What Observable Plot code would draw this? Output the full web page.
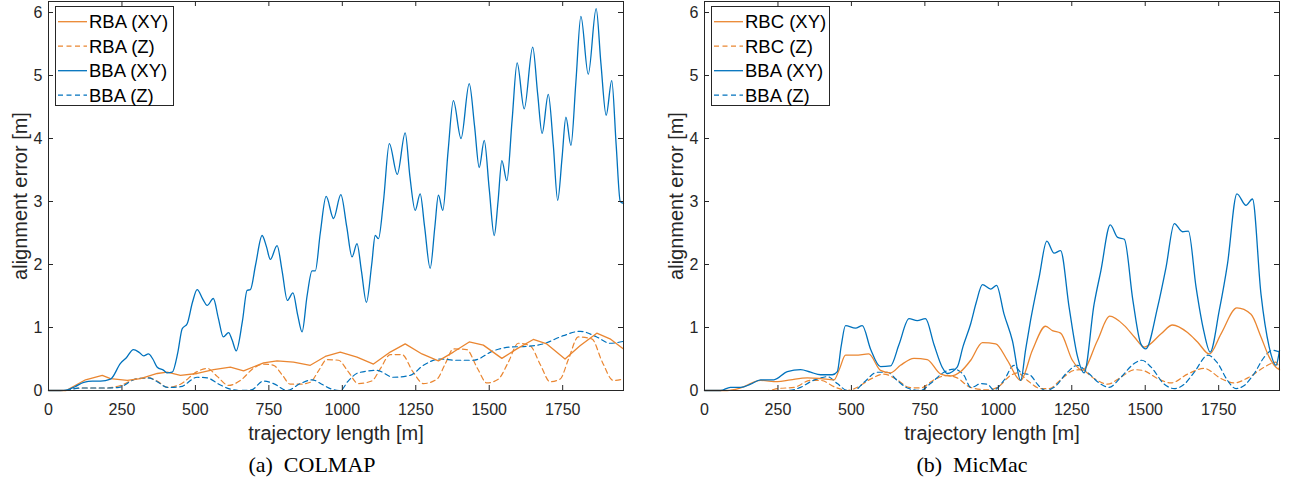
<!DOCTYPE html>
<html>
<head>
<meta charset="utf-8">
<script src="https://cdn.jsdelivr.net/npm/d3@7"></script>
<script src="https://cdn.jsdelivr.net/npm/@observablehq/plot@0.6"></script>
<style>
  html, body { margin: 0; padding: 0; background: #fff; }
  #wrap { position: relative; width: 1293px; height: 488px; overflow: hidden; }
  .panel { position: absolute; top: 0; }
  .legend { position: absolute; }
  .caption { position: absolute; top: 452px; font-family: "Liberation Serif", "Times New Roman", serif; font-size: 22px; color: #000; white-space: pre; transform: translateX(-50%); }
</style>
</head>
<body>
<div id="wrap"></div>
<script>
// ---------- tick labels ----------
const xTicks = [0, 250, 500, 750, 1000, 1250, 1500, 1750];
const yTicks = [0, 1, 2, 3, 4, 5, 6];

// ---------- series names ----------
const colmapNames = ["RBA (XY)", "RBA (Z)", "BBA (XY)", "BBA (Z)"];
const micmacNames = ["RBC (XY)", "RBC (Z)", "BBA (XY)", "BBA (Z)"];
const captions = ["(a)  COLMAP", "(b)  MicMac"];

// ---------- (a) COLMAP : [trajectory length, alignment error] ----------
const colmapBbaXY = [[0,0],[40,0],[64,0.01],[90,0.06],[120,0.13],[150,0.15],[177,0.15],[211,0.18],[245,0.43],[265,0.52],[289,0.65],[310,0.6],[324,0.55],[340,0.58],[355,0.5],[370,0.37],[392,0.32],[404,0.28],[421,0.29],[440,0.6],[455,0.98],[472,1.06],[490,1.4],[506,1.6],[525,1.45],[540,1.35],[561,1.46],[578,1.15],[595,0.85],[613,0.92],[625,0.8],[639,0.63],[660,1.1],[676,1.59],[687,1.6],[705,2.0],[727,2.46],[742,2.28],[755,2.08],[778,2.3],[795,1.9],[813,1.43],[832,1.55],[848,1.2],[863,0.93],[880,1.5],[897,1.9],[908,1.9],[925,2.5],[945,3.08],[970,2.73],[995,3.11],[1015,2.6],[1033,2.12],[1050,2.33],[1065,1.9],[1082,1.4],[1100,2.0],[1112,2.46],[1123,2.41],[1140,3.0],[1160,3.92],[1187,3.43],[1214,4.09],[1230,3.4],[1248,2.86],[1265,3.12],[1280,2.6],[1299,1.94],[1315,2.6],[1327,3.1],[1342,2.86],[1360,3.8],[1378,4.6],[1404,4.0],[1432,4.87],[1450,4.2],[1466,3.54],[1483,3.97],[1500,3.2],[1517,2.46],[1530,3.0],[1543,3.65],[1560,3.33],[1578,4.3],[1595,5.2],[1619,4.47],[1648,5.45],[1665,4.7],[1680,4.08],[1701,4.7],[1718,3.9],[1733,3.02],[1748,3.7],[1761,4.34],[1778,3.89],[1795,4.9],[1812,5.94],[1837,5.02],[1864,6.06],[1880,5.2],[1898,4.37],[1917,4.92],[1932,3.9],[1946,3.0],[1957,2.97]];
const colmapRbaXY = [[0,0],[60,0],[126,0.17],[183,0.24],[211,0.19],[268,0.16],[313,0.19],[370,0.27],[404,0.29],[449,0.24],[506,0.27],[562,0.33],[619,0.37],[664,0.31],[732,0.44],[778,0.47],[834,0.45],[891,0.4],[942,0.54],[993,0.61],[1050,0.53],[1106,0.42],[1163,0.61],[1214,0.74],[1271,0.58],[1327,0.47],[1378,0.61],[1432,0.77],[1480,0.72],[1543,0.51],[1594,0.66],[1650,0.81],[1696,0.74],[1758,0.5],[1809,0.71],[1866,0.91],[1911,0.82],[1957,0.66]];
const colmapRbaZ = [[0,0],[60,0],[100,0.04],[200,0.04],[245,0.08],[296,0.18],[340,0.2],[370,0.15],[404,0.05],[449,0.1],[506,0.3],[540,0.35],[575,0.22],[613,0.08],[653,0.16],[700,0.36],[732,0.42],[766,0.4],[795,0.25],[823,0.1],[857,0.1],[891,0.13],[920,0.32],[947,0.49],[987,0.48],[1020,0.3],[1054,0.11],[1100,0.15],[1130,0.35],[1163,0.57],[1203,0.57],[1240,0.3],[1276,0.11],[1322,0.18],[1350,0.42],[1378,0.66],[1423,0.65],[1460,0.35],[1492,0.12],[1531,0.18],[1565,0.45],[1599,0.75],[1639,0.71],[1675,0.4],[1707,0.14],[1741,0.18],[1770,0.5],[1803,0.85],[1849,0.82],[1885,0.45],[1922,0.16],[1957,0.18]];
const colmapBbaZ = [[0,0],[60,0],[90,0.03],[120,0.04],[200,0.04],[240,0.05],[296,0.18],[340,0.2],[370,0.14],[404,0.05],[449,0.06],[506,0.21],[540,0.2],[580,0.1],[613,0.03],[650,0],[690,0.01],[732,0.15],[766,0.11],[812,0],[857,0.11],[897,0.17],[930,0.1],[959,0.03],[993,0],[1020,0.15],[1054,0.28],[1117,0.32],[1174,0.21],[1231,0.24],[1276,0.4],[1333,0.5],[1389,0.48],[1446,0.48],[1514,0.63],[1571,0.69],[1627,0.7],[1684,0.74],[1752,0.87],[1809,0.94],[1866,0.85],[1911,0.75],[1957,0.78]];

// ---------- (b) MicMac ----------
const micmacBbaXY = [[0,0],[55,0],[88,0.05],[123,0.05],[157,0.1],[191,0.17],[236,0.17],[282,0.3],[327,0.33],[361,0.29],[395,0.25],[435,0.25],[452,0.3],[465,0.7],[480,1.03],[514,0.99],[537,1.03],[565,0.66],[599,0.38],[633,0.39],[662,0.73],[696,1.14],[724,1.11],[752,1.14],[781,0.73],[809,0.37],[826,0.27],[860,0.37],[880,0.7],[906,1.06],[925,1.4],[946,1.68],[974,1.61],[994,1.67],[1019,1.22],[1048,0.79],[1076,0.16],[1093,0.65],[1110,1.12],[1139,1.8],[1165,2.37],[1190,2.18],[1212,2.22],[1241,1.32],[1269,0.55],[1292,0.28],[1326,1.37],[1349,1.9],[1381,2.63],[1406,2.43],[1429,2.4],[1458,1.43],[1485,0.74],[1502,0.66],[1542,1.32],[1571,1.96],[1599,2.65],[1627,2.52],[1647,2.53],[1673,1.64],[1699,0.95],[1721,0.61],[1752,1.27],[1780,2.01],[1812,3.12],[1843,2.94],[1865,3.04],[1894,1.53],[1922,0.69],[1945,0.4],[1957,0.64]];
const micmacRbcXY = [[0,0],[77,0],[123,0.04],[191,0.16],[248,0.14],[293,0.17],[350,0.2],[395,0.19],[441,0.17],[460,0.35],[480,0.56],[514,0.56],[559,0.58],[599,0.32],[633,0.28],[667,0.4],[713,0.51],[758,0.49],[804,0.26],[838,0.23],[872,0.3],[906,0.48],[946,0.76],[991,0.74],[1031,0.48],[1076,0.16],[1116,0.64],[1161,1.02],[1184,0.95],[1212,0.91],[1252,0.48],[1286,0.32],[1337,0.79],[1379,1.18],[1429,1.03],[1463,0.85],[1497,0.69],[1554,0.9],[1593,1.04],[1644,0.92],[1678,0.77],[1718,0.58],[1758,0.9],[1812,1.31],[1860,1.21],[1894,0.85],[1922,0.53],[1945,0.37],[1957,0.33]];
const micmacRbcZ = [[0,0],[215,0],[248,0.03],[305,0.05],[361,0.16],[395,0.16],[446,0.05],[486,0],[520,0.05],[565,0.18],[610,0.26],[656,0.17],[696,0.05],[735,0.04],[781,0.17],[826,0.24],[860,0.2],[905,0.05],[963,0.01],[997,0.05],[1042,0.24],[1065,0.28],[1099,0.16],[1144,0.03],[1173,0.03],[1212,0.17],[1258,0.32],[1281,0.33],[1326,0.19],[1372,0.1],[1417,0.21],[1463,0.33],[1491,0.32],[1542,0.19],[1588,0.12],[1644,0.26],[1701,0.35],[1758,0.19],[1803,0.12],[1849,0.2],[1905,0.37],[1945,0.45],[1957,0.32]];
const micmacBbaZ = [[0,0],[282,0],[327,0.05],[361,0.14],[389,0.19],[418,0.22],[452,0.11],[486,0],[509,0],[543,0.13],[588,0.29],[622,0.29],[656,0.16],[690,0.04],[735,0],[769,0.11],[815,0.29],[849,0.34],[883,0.24],[906,0.05],[917,0.06],[940,0.11],[963,0.1],[985,0.01],[1019,0.16],[1053,0.4],[1076,0.29],[1110,0.24],[1133,0.1],[1161,0],[1190,0.05],[1235,0.29],[1269,0.4],[1303,0.29],[1349,0.1],[1377,0.05],[1417,0.21],[1463,0.43],[1488,0.48],[1520,0.37],[1565,0.1],[1599,0.03],[1633,0.1],[1667,0.29],[1713,0.56],[1747,0.43],[1780,0.16],[1809,0.03],[1837,0.08],[1871,0.27],[1905,0.53],[1933,0.64],[1957,0.61]];

// ---------- styling ----------
const ORANGE = "#EA8631";
const BLUE = "#0072BD";
const AXIS = "#262626";
const DASH = "5,3.5";
const FONT = "'Liberation Sans', Arial, Helvetica, sans-serif";

const H = 450, MT = 1, MB = 60, PW = 575;
const PH = H - MT - MB;

function panel(series, left, ml, width) {
  const mr = width - ml - PW;
  const chart = Plot.plot({
    width, height: H,
    marginTop: MT, marginBottom: MB, marginLeft: ml, marginRight: mr,
    style: {fontFamily: FONT, color: AXIS, background: "transparent", overflow: "visible"},
    x: {domain: [0, 1957]},
    y: {domain: [0, (PH) / 63]},
    marks: [
      // data
      Plot.line(series[1], {x: d => d[0], y: d => d[1], stroke: ORANGE, strokeWidth: 1.2, strokeDasharray: DASH, curve: "monotone-x"}),
      Plot.line(series[3], {x: d => d[0], y: d => d[1], stroke: BLUE, strokeWidth: 1.2, strokeDasharray: DASH, curve: "monotone-x"}),
      Plot.line(series[0], {x: d => d[0], y: d => d[1], stroke: ORANGE, strokeWidth: 1.3, curve: series[4]}),
      Plot.line(series[2], {x: d => d[0], y: d => d[1], stroke: BLUE, strokeWidth: 1.3, curve: "monotone-x"}),
      // box + inward ticks
      Plot.frame({stroke: AXIS, strokeWidth: 1}),
      Plot.tickX(xTicks, {x: d => d, insetTop: PH - 5, stroke: AXIS}),
      Plot.tickX(xTicks, {x: d => d, insetBottom: PH - 5, stroke: AXIS}),
      Plot.tickY(yTicks, {y: d => d, insetRight: PW - 5, stroke: AXIS}),
      Plot.tickY(yTicks, {y: d => d, insetLeft: PW - 5, stroke: AXIS}),
      // tick labels
      Plot.axisX(xTicks, {tickSize: 0, tickPadding: 13, fontSize: 16, label: null, fill: AXIS, tickFormat: d => String(d)}),
      Plot.axisY(yTicks, {tickSize: 0, tickPadding: 6, fontSize: 16, label: null, fill: AXIS, tickFormat: d => String(d)}),
      // axis titles
      Plot.text(["trajectory length [m]"], {text: d => d, frameAnchor: "bottom", dy: 43, lineAnchor: "middle", textAnchor: "middle", fontSize: 20, fill: AXIS}),
      Plot.text(["alignment error [m]"], {text: d => d, frameAnchor: "left", dx: -28, rotate: -90, lineAnchor: "middle", textAnchor: "middle", fontSize: 20, fill: AXIS})
    ]
  });
  const div = document.createElement("div");
  div.className = "panel";
  div.style.left = left + "px";
  div.appendChild(chart);
  return div;
}

function legend(names, left, top) {
  const w = 119, h = 100;
  const ns = "http://www.w3.org/2000/svg";
  const svg = document.createElementNS(ns, "svg");
  svg.setAttribute("width", w); svg.setAttribute("height", h);
  svg.setAttribute("class", "legend");
  svg.style.left = left + "px"; svg.style.top = top + "px";
  const rect = document.createElementNS(ns, "rect");
  rect.setAttribute("x", 0.5); rect.setAttribute("y", 0.5);
  rect.setAttribute("width", w - 1); rect.setAttribute("height", h - 1);
  rect.setAttribute("fill", "#fff"); rect.setAttribute("stroke", AXIS);
  svg.appendChild(rect);
  const styles = [[ORANGE, null], [ORANGE, DASH], [BLUE, null], [BLUE, DASH]];
  names.forEach((name, i) => {
    const cy = 15.7 + i * 24.5;
    const ln = document.createElementNS(ns, "line");
    ln.setAttribute("x1", 3); ln.setAttribute("x2", 32);
    ln.setAttribute("y1", cy); ln.setAttribute("y2", cy);
    ln.setAttribute("stroke", styles[i][0]); ln.setAttribute("stroke-width", 1.3);
    if (styles[i][1]) ln.setAttribute("stroke-dasharray", styles[i][1]);
    svg.appendChild(ln);
    const t = document.createElementNS(ns, "text");
    t.setAttribute("x", 34); t.setAttribute("y", cy);
    t.setAttribute("dy", "0.35em");
    t.setAttribute("font-family", FONT); t.setAttribute("font-size", 18.5);
    t.setAttribute("fill", "#000");
    t.textContent = name;
    svg.appendChild(t);
  });
  return svg;
}

function caption(text, cx) {
  const d = document.createElement("div");
  d.className = "caption";
  d.style.left = cx + "px";
  d.textContent = text;
  return d;
}

const wrap = document.getElementById("wrap");
wrap.appendChild(panel([colmapRbaXY, colmapRbaZ, colmapBbaXY, colmapBbaZ, "linear"], 0, 48, 640));
wrap.appendChild(panel([micmacRbcXY, micmacRbcZ, micmacBbaXY, micmacBbaZ, "monotone-x"], 650, 54, 643));
wrap.appendChild(legend(colmapNames, 55, 6));
wrap.appendChild(legend(micmacNames, 711, 6));
wrap.appendChild(caption(captions[0], 312));
wrap.appendChild(caption(captions[1], 972));
</script>
</body>
</html>
